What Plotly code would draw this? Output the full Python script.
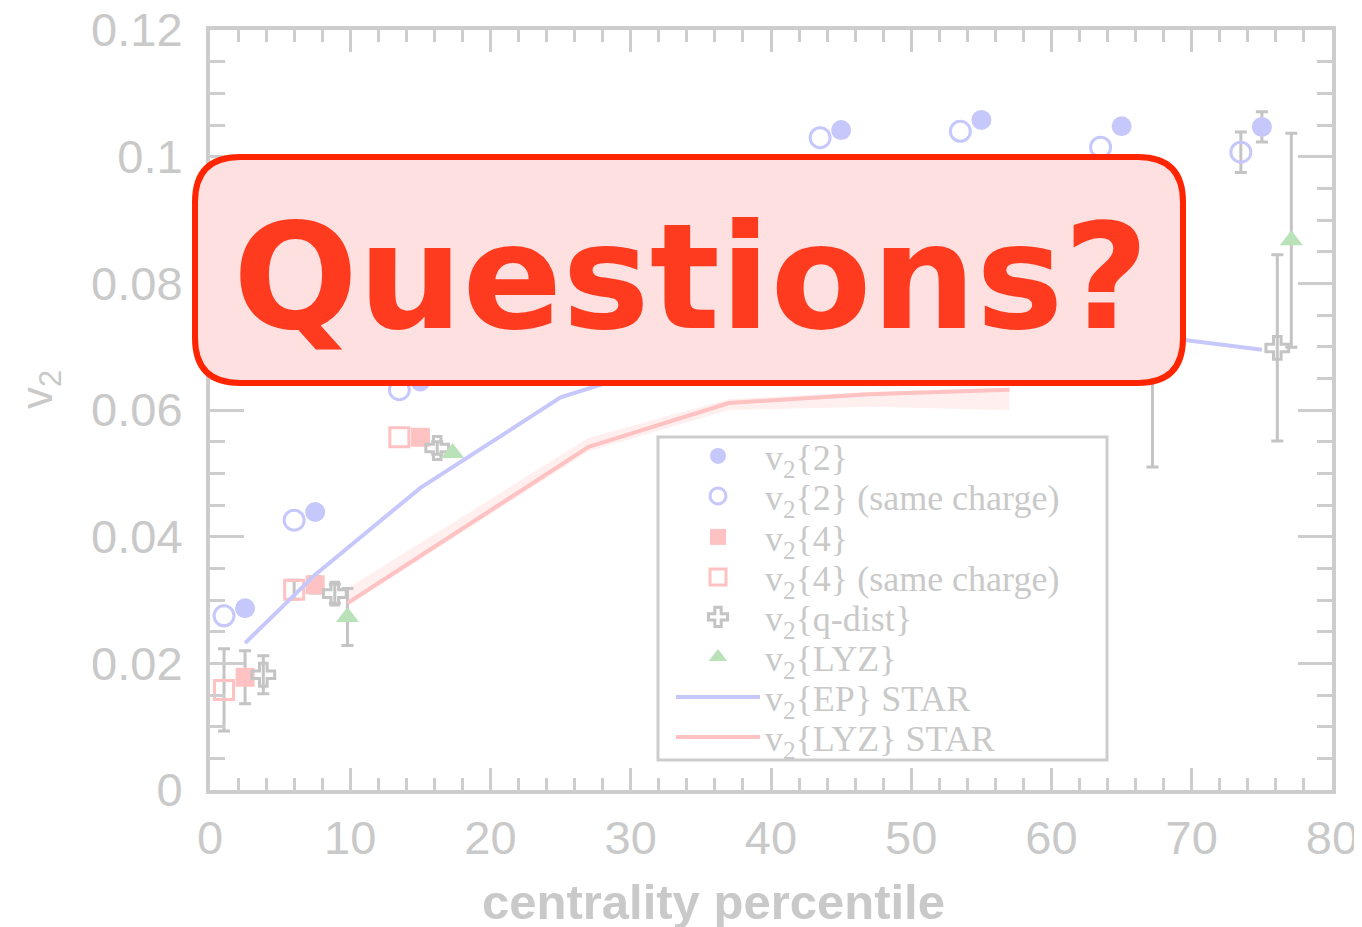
import plotly.graph_objects as go

# centrality (%) and v2 values (None = no error bar drawn)
v2_2_x = [2.5, 7.5, 15, 25, 35, 45, 55, 65, 75]
v2_2_y = [0.0287, 0.0439, 0.0645, 0.082, 0.096, 0.1042, 0.1058, 0.1048, 0.1047]
v2_2_err = [None, None, None, None, None, None, None, None, 0.0024]

v2_2sc_x = [1, 6, 13.5, 23.5, 33.5, 43.5, 53.5, 63.5, 73.5]
v2_2sc_y = [0.0275, 0.0426, 0.0632, 0.080, 0.094, 0.1030, 0.1040, 0.1015, 0.1007]
v2_2sc_err = [None, None, None, None, None, None, None, None, 0.0032]

v2_4_x = [2.5, 7.5, 15, 25, 35, 45, 55, 65]
v2_4_y = [0.0178, 0.0324, 0.0557, 0.072, 0.082, 0.088, 0.090, 0.089]
v2_4_err = [0.0042, 0.0013, None, None, None, None, None, None]

v2_4sc_x = [1, 6, 13.5, 23.5, 33.5, 43.5, 53.5, 63.5]
v2_4sc_y = [0.0158, 0.0316, 0.0557, 0.070, 0.080, 0.086, 0.088, 0.087]
v2_4sc_err = [0.0065, 0.0015, None, None, None, None, None, None]

qdist_x = [3.8, 8.9, 16.2, 26, 36, 46, 56, 66, 76.1]
qdist_y = [0.0182, 0.031, 0.054, 0.068, 0.076, 0.080, 0.081, 0.080, 0.0698]
qdist_err = [0.003, 0.0015, 0.001, None, None, None, None, None, 0.0147]

lyz_x = [9.8, 17.3, 27.2, 37.2, 47.2, 57.2, 67.2, 77.1]
lyz_y = [0.0273, 0.0532, 0.068, 0.077, 0.080, 0.080, 0.075, 0.0868]
lyz_err = [0.0045, None, None, None, None, None, 0.024, 0.0169]

star_ep_x = [2.5, 7.5, 15, 25, 35, 45, 55, 65, 75]
star_ep_y = [0.0232, 0.034, 0.0477, 0.062, 0.069, 0.072, 0.073, 0.0723, 0.0695]

star_lyz_x = [9.8, 27, 37, 47, 57]
star_lyz_y = [0.0295, 0.0542, 0.0611, 0.0625, 0.0632]
star_lyz_hi = [0.0318, 0.0556, 0.0617, 0.0629, 0.0635]
star_lyz_lo = [0.0290, 0.0535, 0.0600, 0.0605, 0.0600]

x_ticks = [0, 10, 20, 30, 40, 50, 60, 70, 80]
x_labels = ["0", "10", "20", "30", "40", "50", "60", "70", "80"]
y_ticks = [0, 0.02, 0.04, 0.06, 0.08, 0.1, 0.12]
y_labels = ["0", "0.02", "0.04", "0.06", "0.08", "0.1", "0.12"]

BLUE = "#c6c8fc"
RED = "#ffc2c2"
GREEN = "#b9e2b9"
GREY = "#c4c4c4"
AXIS = "#cdcdcd"
TEXT = "#c9c9c9"

# the page body has an 8px margin, so the figure sits at (8, 8)
OFF = 8
FW, FH = 1362 - OFF, 927 - OFF
PL, PR, PT, PB = 210, 1332, 30, 790  # plot area in page pixels


def px(x):
    return (x - PL) / (PR - PL)


def py(y):
    return (PB - y) / (PB - PT)


fig = go.Figure()

fig.add_trace(go.Scatter(
    x=star_lyz_x + star_lyz_x[::-1], y=star_lyz_hi + star_lyz_lo[::-1],
    fill="toself", fillcolor="#ffefef", line=dict(width=0),
    mode="lines", showlegend=False, hoverinfo="skip"))

series = [
    ("v<sub>2</sub>{2}", v2_2_x, v2_2_y, v2_2_err,
     dict(symbol="circle", size=20, color=BLUE)),
    ("v<sub>2</sub>{2} (same charge)", v2_2sc_x, v2_2sc_y, v2_2sc_err,
     dict(symbol="circle-open", size=20, color=BLUE, line=dict(width=3, color=BLUE))),
    ("v<sub>2</sub>{4}", v2_4_x, v2_4_y, v2_4_err,
     dict(symbol="square", size=19, color=RED)),
    ("v<sub>2</sub>{4} (same charge)", v2_4sc_x, v2_4sc_y, v2_4sc_err,
     dict(symbol="square-open", size=19, color=RED, line=dict(width=3, color=RED))),
    ("v<sub>2</sub>{q-dist}", qdist_x, qdist_y, qdist_err,
     dict(symbol="cross-open", size=19, color=GREY, line=dict(width=3, color=GREY))),
    ("v<sub>2</sub>{LYZ}", lyz_x, lyz_y, lyz_err,
     dict(symbol="triangle-up", size=20, color=GREEN)),
]

legend_rows = [456, 496, 537, 577, 617, 657, 697, 737]
leg_keys = ["legend"] + [f"legend{i}" for i in range(2, 9)]

# error bars only where the reference shows one
for name, xs, ys, es, mk in series:
    keep = [i for i, e in enumerate(es) if e is not None]
    fig.add_trace(go.Scatter(
        x=[xs[i] for i in keep], y=[ys[i] for i in keep], mode="markers",
        marker=dict(size=1, opacity=0), showlegend=False, hoverinfo="skip",
        error_y=dict(type="data", array=[es[i] for i in keep], color=GREY,
                     thickness=3, width=6)))

for i, (name, xs, ys, es, mk) in enumerate(series):
    fig.add_trace(go.Scatter(x=xs, y=ys, mode="markers", name=name,
                             marker=mk, legend=leg_keys[i]))

fig.add_trace(go.Scatter(
    x=star_ep_x, y=star_ep_y, mode="lines", name="v<sub>2</sub>{EP} STAR",
    line=dict(color=BLUE, width=4), legend=leg_keys[6]))
fig.add_trace(go.Scatter(
    x=star_lyz_x, y=star_lyz_y, mode="lines", name="v<sub>2</sub>{LYZ} STAR",
    line=dict(color=RED, width=4), legend=leg_keys[7]))

axis_common = dict(
    showline=True, linewidth=4, linecolor=AXIS, mirror="allticks",
    ticks="inside", tickcolor=AXIS, tickwidth=3, showgrid=False,
    zeroline=False, ticklabeloverflow="allow",
    tickfont=dict(family="Liberation Sans", size=47, color=TEXT),
)

fig.update_xaxes(
    range=[0, 80], tickvals=x_ticks, ticktext=x_labels, ticklen=22,
    ticklabelstandoff=4,
    minor=dict(dtick=2, ticks="inside", ticklen=12, tickcolor=AXIS, tickwidth=3),
    **axis_common)
fig.update_yaxes(
    range=[0, 0.12], tickvals=y_ticks, ticktext=y_labels, ticklen=34,
    ticklabelstandoff=14,
    minor=dict(dtick=0.005, ticks="inside", ticklen=15, tickcolor=AXIS, tickwidth=3),
    **axis_common)

# axis titles (the reference has them off-centre)
fig.add_annotation(text="centrality percentile", xref="paper", yref="paper",
                   x=px(713), y=py(902), xanchor="center", yanchor="middle",
                   showarrow=False,
                   font=dict(family="Liberation Sans", size=49, color=TEXT,
                             weight="bold"))
fig.add_annotation(text="v<sub>2</sub>", xref="paper", yref="paper",
                   x=px(40), y=py(390), xanchor="center", yanchor="middle",
                   textangle=-90, showarrow=False,
                   font=dict(family="Liberation Sans", size=44, color=TEXT))

# legend frame
fig.add_shape(type="rect", xref="paper", yref="paper",
              x0=px(658), x1=px(1107), y0=py(760), y1=py(437),
              line=dict(color=AXIS, width=3), layer="above")

# rounded "Questions?" banner
bl, br, bt, bb, r = 195, 1183, 157, 383, 45
path = (
    f"M {px(bl + r)} {py(bt)} L {px(br - r)} {py(bt)} "
    f"Q {px(br)} {py(bt)} {px(br)} {py(bt + r)} "
    f"L {px(br)} {py(bb - r)} Q {px(br)} {py(bb)} {px(br - r)} {py(bb)} "
    f"L {px(bl + r)} {py(bb)} Q {px(bl)} {py(bb)} {px(bl)} {py(bb - r)} "
    f"L {px(bl)} {py(bt + r)} Q {px(bl)} {py(bt)} {px(bl + r)} {py(bt)} Z"
)
fig.add_shape(type="path", path=path, xref="paper", yref="paper",
              fillcolor="#fde0df", line=dict(color="#ff2500", width=6),
              layer="above")
fig.add_annotation(
    text="Questions?", xref="paper", yref="paper",
    x=px(691), y=py(277), xanchor="center", yanchor="middle",
    showarrow=False,
    font=dict(family="DejaVu Sans", size=147, color="#ff3b1f", weight="bold"))

legend_style = dict(
    xanchor="left", yanchor="middle", x=px(671),
    bgcolor="rgba(255,255,255,0)", borderwidth=0,
    font=dict(family="Liberation Serif", size=36, color=TEXT),
    itemsizing="trace", itemwidth=84,
)
legends = {key: dict(y=py(row), **legend_style)
           for key, row in zip(leg_keys, legend_rows)}

fig.update_layout(
    width=FW, height=FH,
    margin=dict(l=PL - OFF, r=OFF + FW - PR, t=PT - OFF, b=OFF + FH - PB,
                autoexpand=False),
    paper_bgcolor="white", plot_bgcolor="white",
    showlegend=True,
    **legends,
)

fig.write_html("out.html")
